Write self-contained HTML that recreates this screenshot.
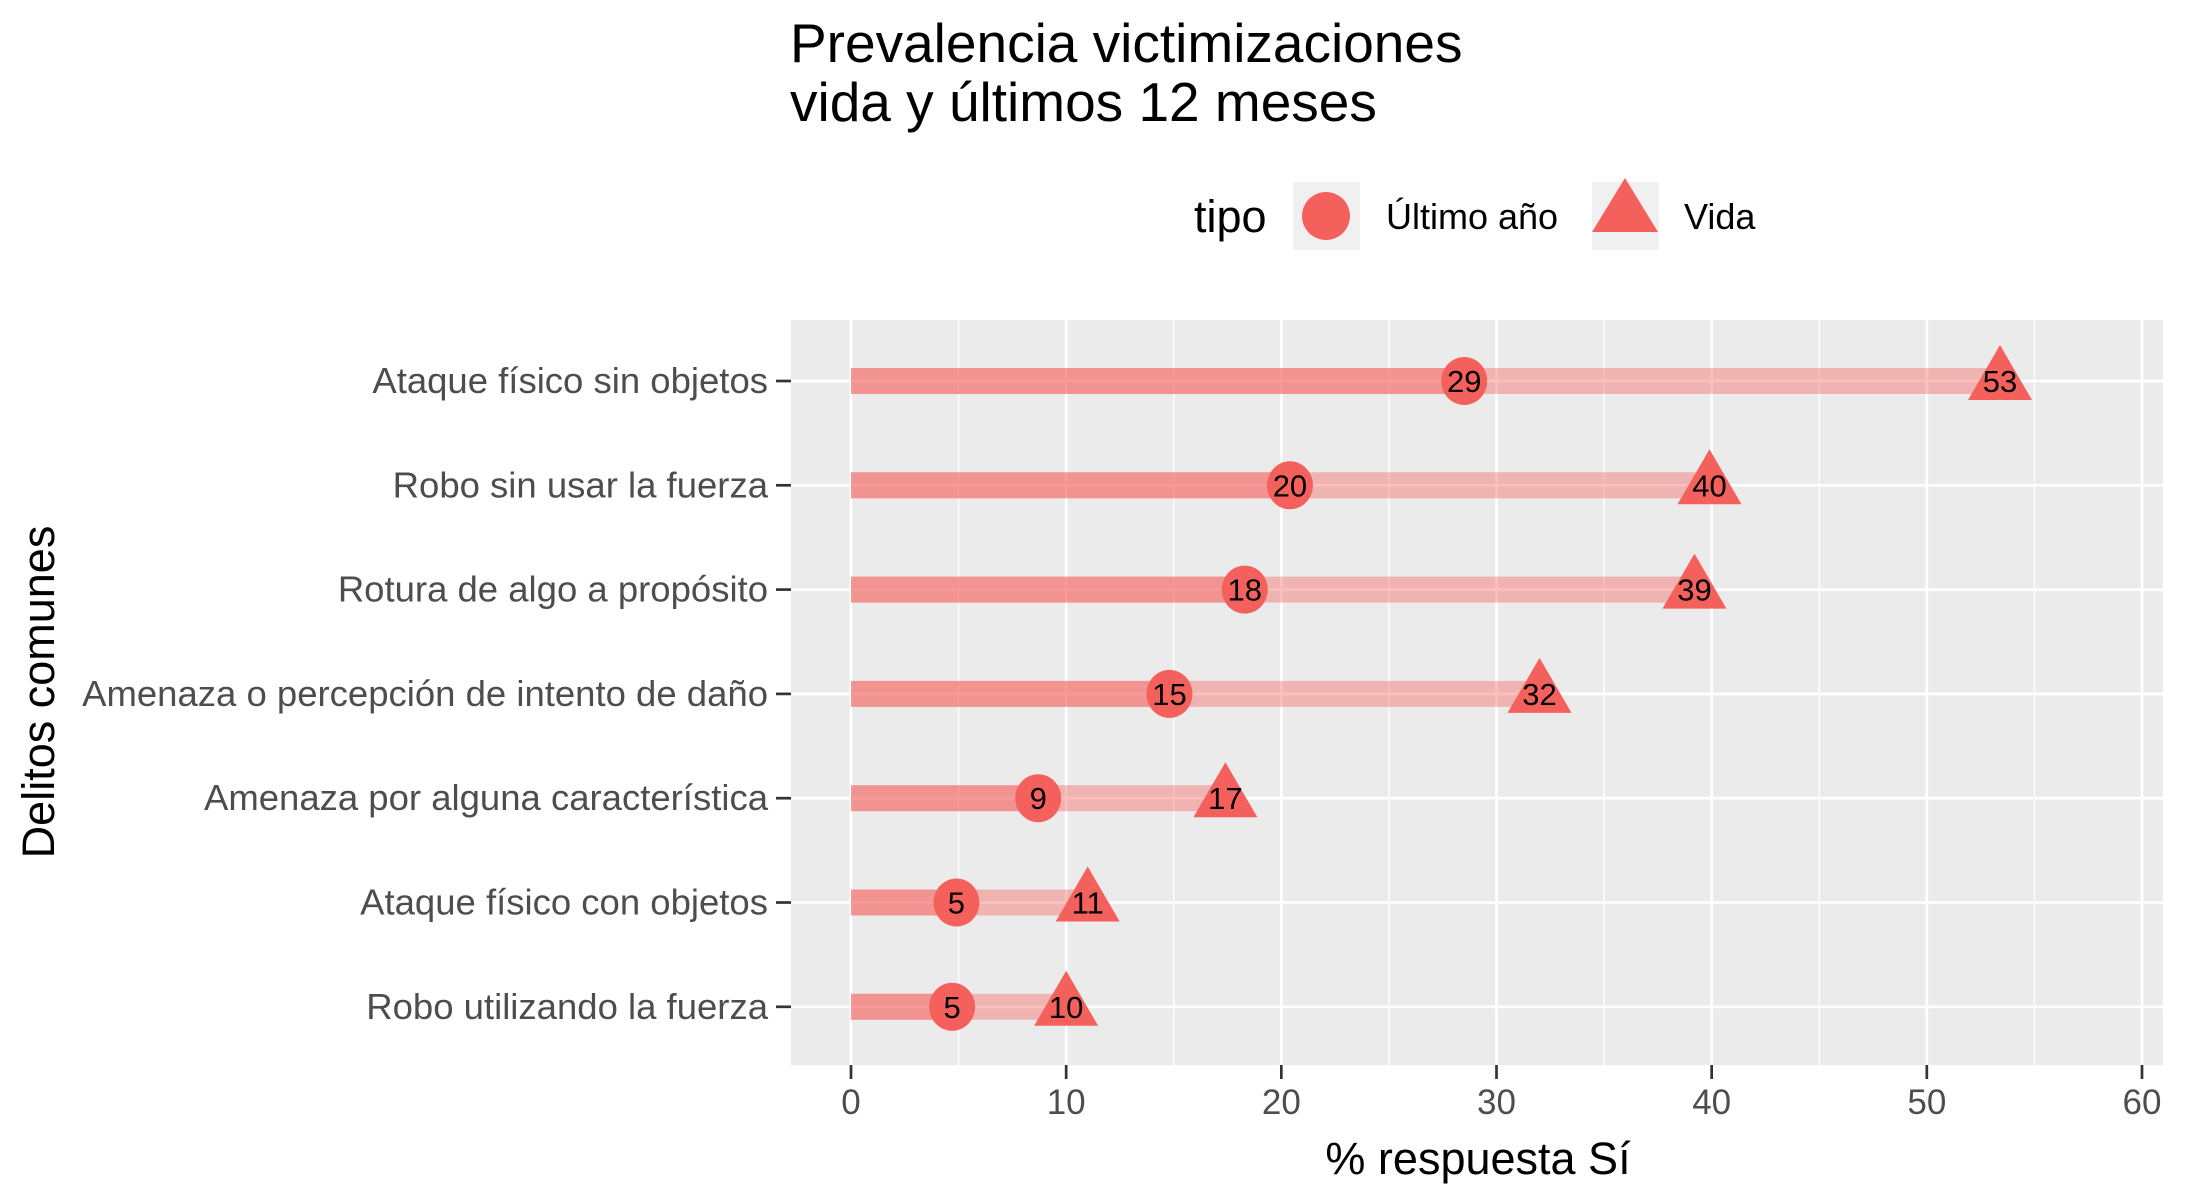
<!DOCTYPE html>
<html><head><meta charset="utf-8"><style>
html,body{margin:0;padding:0;background:#fff;}
svg{display:block;font-family:"Liberation Sans",Arial,sans-serif;}
</style></head><body>
<svg id="chart" width="2187" height="1200" viewBox="0 0 2187 1200" xmlns="http://www.w3.org/2000/svg">
<g>
<text x="790" y="62" font-size="55" fill="#000">Prevalencia victimizaciones</text>
<text x="790" y="121" font-size="55" fill="#000">vida y últimos 12 meses</text>
</g>
<g transform="translate(-6,0)">
<text x="1200" y="232" font-size="45" fill="#000">tipo</text>
<g>
<rect x="1299" y="182" width="67" height="68" fill="#F0F0F0"/>
<ellipse cx="1332" cy="216" rx="24" ry="24" fill="#F4615D"/>
<text x="1392" y="229" font-size="36" fill="#000">Último año</text>
</g>
<g>
<rect x="1598" y="182" width="67" height="68" fill="#F0F0F0"/>
<polygon points="1631,178 1664,232 1598,232" fill="#F4615D"/>
<text x="1690" y="229" font-size="36" fill="#000">Vida</text>
</g>
</g>
<rect x="792" y="320" width="1384" height="745" fill="#EBEBEB" id="panel"/>
<g id="grid"></g>
<g id="marks"></g>
<g id="axes"></g>
<text x="1478" y="1174" font-size="45" text-anchor="middle" fill="#000">% respuesta Sí</text>
<text transform="translate(54,692) rotate(-90)" font-size="45" text-anchor="middle" fill="#000">Delitos comunes</text>
</svg>
<script>
const categories = ["Ataque físico sin objetos","Robo sin usar la fuerza","Rotura de algo a propósito","Amenaza o percepción de intento de daño","Amenaza por alguna característica","Ataque físico con objetos","Robo utilizando la fuerza"];
const ultimoAnio = [28.5,20.4,18.3,14.8,8.7,4.9,4.7];
const vida = [53.4,39.9,39.2,32.0,17.4,11.0,10.0];
const xTicks = [0,10,20,30,40,50,60];

const NS="http://www.w3.org/2000/svg";
const x0=851, pxPer=(2142-851)/60;
const PL=791, PR=2163, PT=320, PB=1065;
const panel=document.getElementById('panel');
panel.setAttribute('x',PL);panel.setAttribute('width',PR-PL);
function xs(v){return x0+v*pxPer;}
function ys(i){return 381+i*104.3;}
function mk(tag,attrs,parent){const e=document.createElementNS(NS,tag);for(const k in attrs)e.setAttribute(k,attrs[k]);parent.appendChild(e);return e;}
const grid=document.getElementById('grid'),marks=document.getElementById('marks'),axes=document.getElementById('axes');
for(let v=5;v<=60;v+=10){
  const l=mk('line',{x1:xs(v),x2:xs(v),y1:PT,y2:PB,stroke:'#fff','stroke-width':1.3},grid);
  
  
}
xTicks.forEach(v=>{
  const l=mk('line',{x1:xs(v),x2:xs(v),y1:PT,y2:PB,stroke:'#fff','stroke-width':2.7},grid);
  
  
  const t=mk('line',{x1:xs(v),x2:xs(v),y1:PB,y2:PB+14,stroke:'#333','stroke-width':2.7},axes);
  
  
  const tx=mk('text',{x:xs(v),y:1114,'font-size':35,'text-anchor':'middle',fill:'#4D4D4D'},axes);
  tx.textContent=v;
  
  
});
categories.forEach((c,i)=>{
  const y=ys(i);
  const g=mk('line',{x1:PL,x2:PR,y1:y,y2:y,stroke:'#fff','stroke-width':2.7},grid);
  
  
  const t=mk('line',{x1:776,x2:PL,y1:y,y2:y,stroke:'#333','stroke-width':2.7},axes);
  
  
  const tx=mk('text',{x:768,y:y+12,'font-size':36.5,'text-anchor':'end',fill:'#4D4D4D'},axes);
  tx.textContent=c;
  
  
  const b1=mk('rect',{x:xs(0),y:y-13,width:xs(vida[i])-xs(0),height:26,fill:'#F4615D','fill-opacity':0.4},marks);
  
  
  const b2=mk('rect',{x:xs(0),y:y-13,width:xs(ultimoAnio[i])-xs(0),height:26,fill:'#F4615D','fill-opacity':0.4},marks);
  
  
});
categories.forEach((c,i)=>{
  const y=ys(i);
  const cx=xs(ultimoAnio[i]);
  const p=mk('ellipse',{cx:cx,cy:y,rx:23,ry:24,fill:'#F4615D'},marks);
  
  
  const tl=mk('text',{x:cx,y:y+11,'font-size':31,'text-anchor':'middle',fill:'#000'},marks);
  tl.textContent=Math.round(ultimoAnio[i]);
  
  
  const vx=xs(vida[i]);
  const tr=mk('polygon',{points:`${vx},${y-36} ${vx+32},${y+19} ${vx-32},${y+19}`,fill:'#F4615D'},marks);
  
  
  const tv=mk('text',{x:vx,y:y+11,'font-size':31,'text-anchor':'middle',fill:'#000'},marks);
  tv.textContent=Math.round(vida[i]);
  
  
});
</script>
</body></html>
